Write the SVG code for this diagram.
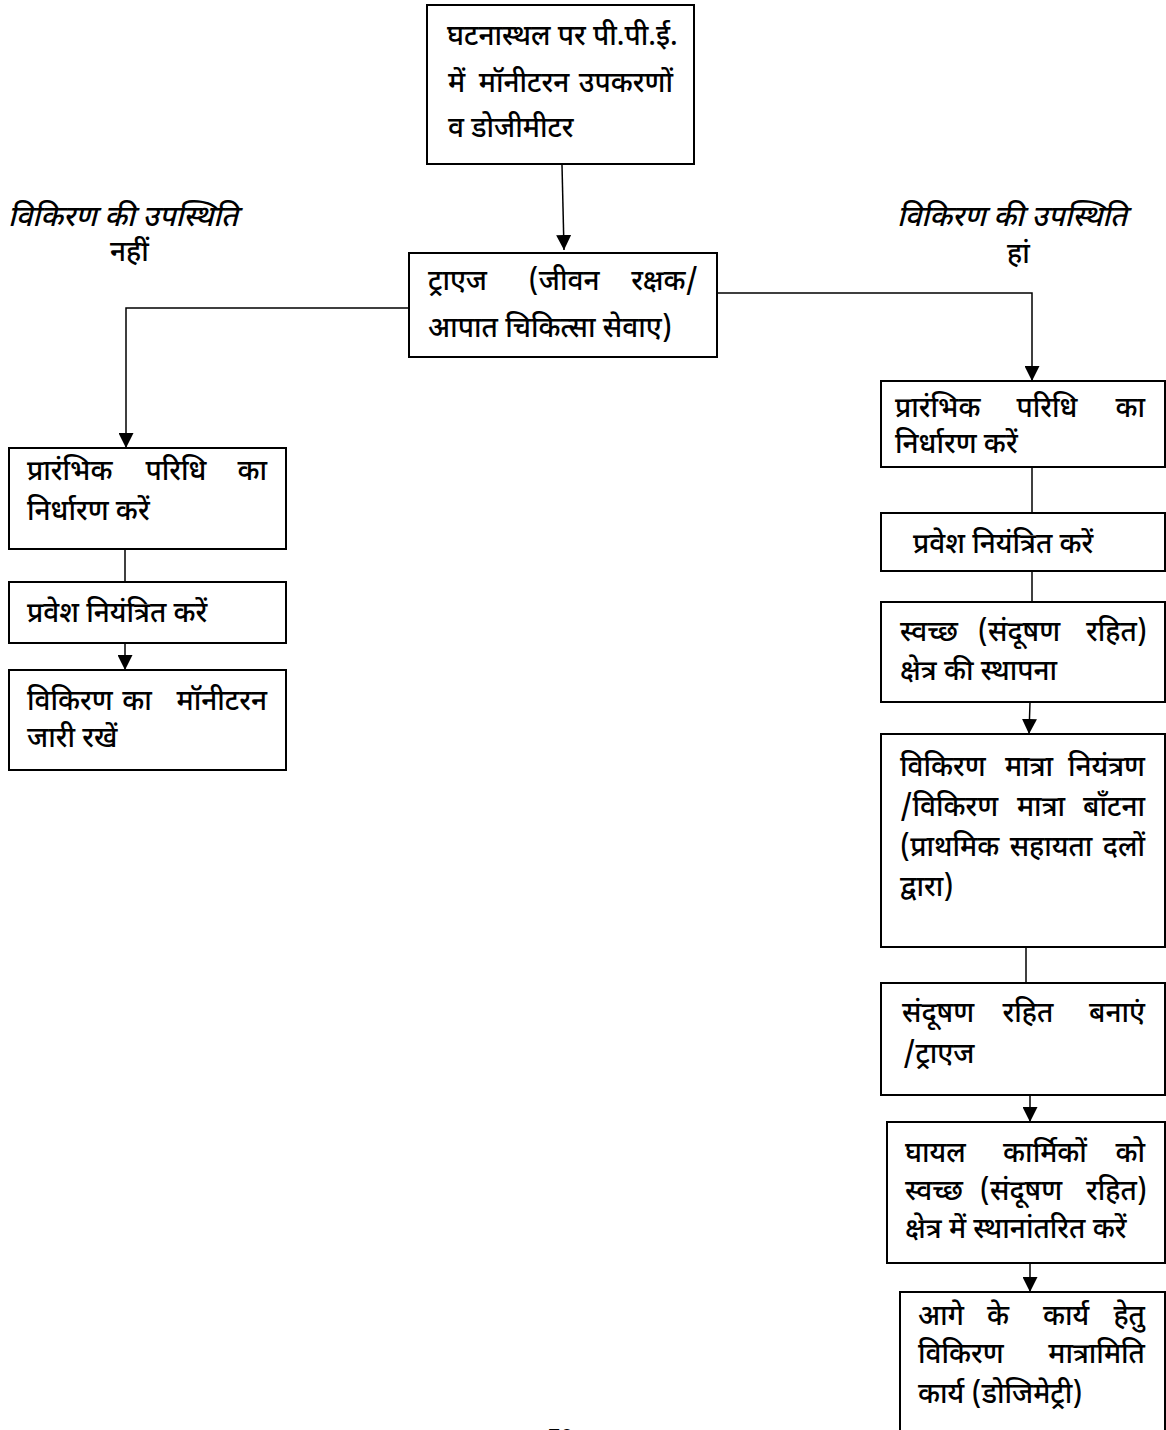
<svg xmlns="http://www.w3.org/2000/svg" width="1166" height="1430" viewBox="0 0 1166 1430">
<style>
.box{fill:#fff;stroke:#000;stroke-width:2}
.ln{fill:none;stroke:#000;stroke-width:1.5}
text{font-family:"Noto Sans Devanagari","Lohit Devanagari","FreeSans","Noto Sans",sans-serif;font-size:28px;font-weight:500;fill:#000}
.it{font-style:italic;font-size:29px}
.e{text-anchor:end}
.m{text-anchor:middle}
</style>
<defs>
<marker id="ah" viewBox="0 0 10 10" refX="10" refY="5" markerWidth="15" markerHeight="15" markerUnits="userSpaceOnUse" orient="auto">
<path d="M0,0 L10,5 L0,10 Z" fill="#000"/>
</marker>
</defs>
<rect width="1166" height="1430" fill="#fff"/>
<g id="connectors">
<path class="ln" d="M562,165 L564,250" marker-end="url(#ah)"/>
<path class="ln" d="M409,308 L126,308 L126,448" marker-end="url(#ah)"/>
<path class="ln" d="M715,293 L1032,293 L1032,381" marker-end="url(#ah)"/>
<path class="ln" d="M125,550 L125,582"/>
<path class="ln" d="M125,643 L125,670" marker-end="url(#ah)"/>
<path class="ln" d="M1032,467 L1032,513"/>
<path class="ln" d="M1032,571 L1032,602"/>
<path class="ln" d="M1030,702 L1029,734" marker-end="url(#ah)"/>
<path class="ln" d="M1026,947 L1026,983"/>
<path class="ln" d="M1030,1095 L1030,1122" marker-end="url(#ah)"/>
<path class="ln" d="M1030,1263 L1030,1292" marker-end="url(#ah)"/>
</g>
<g id="label-no">
<text class="it" x="8" y="226">विकिरण की उपस्थिति</text>
<text x="110" y="261">नहीं</text>
</g>
<g id="label-yes">
<text class="it" x="897" y="226">विकिरण की उपस्थिति</text>
<text x="1007" y="263">हां</text>
</g>
<g id="n-top">
<rect class="box" x="427" y="5" width="267" height="159"/>
<text x="447" y="45">घटनास्थल पर पी.पी.ई.</text>
<text x="448" y="92">में</text><text class="m" x="524" y="92">मॉनीटरन</text><text class="e" x="673" y="92">उपकरणों</text>
<text x="448" y="137">व डोजीमीटर</text>
</g>
<g id="n-triage">
<rect class="box" x="409" y="253" width="308" height="104"/>
<text x="428" y="290">ट्राएज</text><text class="m" x="564" y="290">(जीवन</text><text class="e" x="698" y="290">रक्षक/</text>
<text x="428" y="337">आपात चिकित्सा सेवाए)</text>
</g>
<g id="n-l1">
<rect class="box" x="9" y="448" width="277" height="101"/>
<text x="27" y="480">प्रारंभिक</text><text class="m" x="176" y="480">परिधि</text><text class="e" x="267" y="480">का</text>
<text x="27" y="520">निर्धारण करें</text>
</g>
<g id="n-l2">
<rect class="box" x="9" y="582" width="277" height="61"/>
<text x="27" y="622">प्रवेश नियंत्रित करें</text>
</g>
<g id="n-l3">
<rect class="box" x="9" y="670" width="277" height="100"/>
<text x="27" y="710">विकिरण</text><text class="m" x="137" y="710">का</text><text class="e" x="267" y="710">मॉनीटरन</text>
<text x="27" y="747">जारी रखें</text>
</g>
<g id="n-r1">
<rect class="box" x="881" y="381" width="284" height="86"/>
<text x="895" y="417">प्रारंभिक</text><text class="m" x="1047" y="417">परिधि</text><text class="e" x="1145" y="417">का</text>
<text x="895" y="453">निर्धारण करें</text>
</g>
<g id="n-r2">
<rect class="box" x="881" y="513" width="284" height="58"/>
<text x="913" y="553">प्रवेश नियंत्रित करें</text>
</g>
<g id="n-r3">
<rect class="box" x="881" y="602" width="284" height="100"/>
<text x="900" y="641">स्वच्छ</text><text class="m" x="1019" y="641">(संदूषण</text><text class="e" x="1147" y="641">रहित)</text>
<text x="900" y="680">क्षेत्र की स्थापना</text>
</g>
<g id="n-r4">
<rect class="box" x="881" y="734" width="284" height="213"/>
<text x="900" y="776">विकिरण</text><text class="m" x="1029" y="776">मात्रा</text><text class="e" x="1145" y="776">नियंत्रण</text>
<text x="900" y="816">/विकिरण</text><text class="m" x="1041" y="816">मात्रा</text><text class="e" x="1145" y="816">बाँटना</text>
<text x="900" y="856">(प्राथमिक</text><text class="m" x="1051" y="856">सहायता</text><text class="e" x="1145" y="856">दलों</text>
<text x="900" y="896">द्वारा)</text>
</g>
<g id="n-r5">
<rect class="box" x="881" y="983" width="284" height="112"/>
<text x="902" y="1022">संदूषण</text><text class="m" x="1028" y="1022">रहित</text><text class="e" x="1145" y="1022">बनाएं</text>
<text x="903" y="1063">/ट्राएज</text>
</g>
<g id="n-r6">
<rect class="box" x="887" y="1122" width="278" height="141"/>
<text x="905" y="1162">घायल</text><text class="m" x="1045" y="1162">कार्मिकों</text><text class="e" x="1145" y="1162">को</text>
<text x="905" y="1200">स्वच्छ</text><text class="m" x="1021" y="1200">(संदूषण</text><text class="e" x="1147" y="1200">रहित)</text>
<text x="905" y="1238">क्षेत्र में स्थानांतरित करें</text>
</g>
<g id="n-r7">
<rect class="box" x="900" y="1292" width="265" height="160"/>
<text x="918" y="1325">आगे</text><text class="m" x="998" y="1325">के</text><text class="m" x="1066" y="1325">कार्य</text><text class="e" x="1145" y="1325">हेतु</text>
<text x="918" y="1363">विकिरण</text><text class="e" x="1145" y="1363">मात्रामिति</text>
<text x="918" y="1403">कार्य (डोजिमेट्री)</text>
</g>
<text x="548" y="1444" style="font-family:'Liberation Sans',sans-serif;font-size:22px">76</text>
</svg>
